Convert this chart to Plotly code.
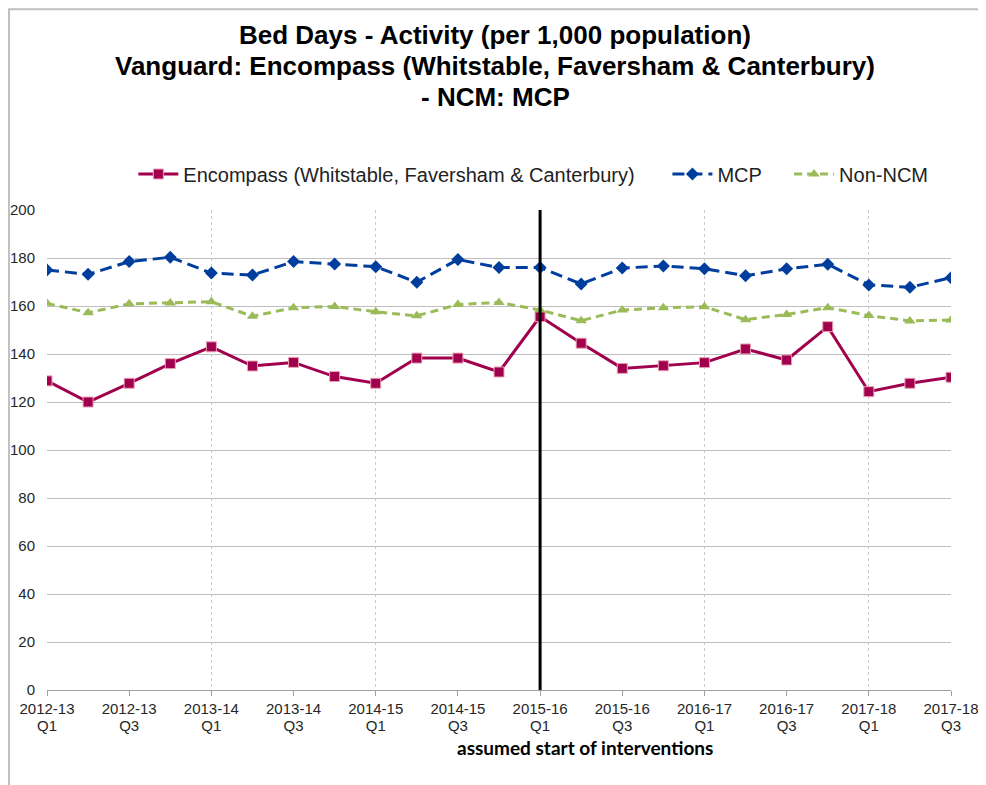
import plotly.graph_objects as go

quarters = [
    "2012-13 Q1", "2012-13 Q2", "2012-13 Q3", "2012-13 Q4",
    "2013-14 Q1", "2013-14 Q2", "2013-14 Q3", "2013-14 Q4",
    "2014-15 Q1", "2014-15 Q2", "2014-15 Q3", "2014-15 Q4",
    "2015-16 Q1", "2015-16 Q2", "2015-16 Q3", "2015-16 Q4",
    "2016-17 Q1", "2016-17 Q2", "2016-17 Q3", "2016-17 Q4",
    "2017-18 Q1", "2017-18 Q2", "2017-18 Q3",
]
encompass = [128.8, 120.0, 127.8, 136.0, 143.0, 135.0, 136.5, 130.6, 127.8, 138.3, 138.3, 132.5,
             155.6, 144.5, 134.0, 135.1, 136.4, 142.1, 137.5, 151.4, 124.3, 127.8, 130.3]
mcp = [175.0, 173.2, 178.5, 180.3, 173.7, 172.9, 178.5, 177.5, 176.4, 169.9, 179.4, 176.0,
       176.0, 169.2, 175.8, 176.7, 175.5, 172.6, 175.5, 177.4, 168.8, 167.8, 171.8]
non_ncm = [161.1, 157.2, 160.9, 161.3, 161.8, 155.7, 159.3, 159.8, 157.6, 155.9, 160.6, 161.5,
           158.3, 153.9, 158.3, 159.3, 159.7, 154.3, 156.5, 159.3, 156.0, 153.8, 154.2]
intervention_start = "2015-16 Q1"
title_lines = ["Bed Days - Activity (per 1,000 population)",
               "Vanguard: Encompass (Whitstable, Faversham & Canterbury)",
               "- NCM: MCP"]

x = list(range(len(quarters)))
label_idx = x[::2]
year_text = [quarters[i].split(" ")[0] for i in label_idx]
q_text = [quarters[i].split(" ")[1] for i in label_idx]
year_start_idx = [i for i in x if quarters[i].endswith("Q1")]
pad = "\u00a0"

fig = go.Figure()
fig.add_trace(go.Scatter(
    x=x, y=encompass, mode='lines+markers',
    name='Encompass (Whitstable, Faversham & Canterbury)' + pad * 5,
    line=dict(color='#A0004D', width=3),
    marker=dict(symbol='square', size=10, color='#A0004D', line=dict(color='#E9A3B4', width=1))
))
fig.add_trace(go.Scatter(
    x=x, y=mcp, mode='lines+markers', name='MCP' + pad * 4,
    line=dict(color='#003E9E', width=3, dash='12px,6px'),
    marker=dict(symbol='diamond', size=10, color='#003E9E')
))
fig.add_trace(go.Scatter(
    x=x, y=non_ncm, mode='lines+markers', name='Non-NCM',
    line=dict(color='#9BBB59', width=3, dash='8px,5px'),
    marker=dict(symbol='triangle-up', size=10, color='#9BBB59')
))
# invisible traces to anchor the extra axes (gridlines, quarter labels)
fig.add_trace(go.Scatter(x=x, y=mcp, xaxis='x2', mode='none', showlegend=False, hoverinfo='skip'))
fig.add_trace(go.Scatter(x=x, y=mcp, xaxis='x3', mode='none', showlegend=False, hoverinfo='skip'))

xi = quarters.index(intervention_start)
fig.add_shape(type='line', xref='x', yref='y', x0=xi, x1=xi, y0=0, y1=200,
              line=dict(color='black', width=3))
fig.add_shape(type='rect', xref='paper', yref='paper',
              x0=-0.042, x1=1.0365, y0=-0.25, y1=1.418,
              line=dict(color='#C0C0C0', width=2), layer='below')

for line, ypos in zip(title_lines, [1.3646, 1.3, 1.2354]):
    fig.add_annotation(text='<b>' + line + '</b>', xref='paper', yref='paper',
                       x=0.4956, y=ypos, xanchor='center', yanchor='middle', showarrow=False,
                       font=dict(family='Liberation Sans, Arial', size=26, color='black'))

fig.add_annotation(text='<b>assumed start of interventions</b>', xref='paper', yref='paper',
                   x=0.595, y=-0.119, xanchor='center', yanchor='middle', showarrow=False,
                   font=dict(family='Lato', size=19, color='black'))

fig.update_layout(
    width=978, height=777,
    margin=dict(l=39, r=35, t=202, b=95),
    paper_bgcolor='white', plot_bgcolor='white',
    font=dict(family='Liberation Sans, Arial', color='#262626', size=15),
    legend=dict(orientation='h', x=0.538, xanchor='center', y=1.075, yanchor='middle',
                itemwidth=40, font=dict(size=20, color='#222222')),
    showlegend=True,
    xaxis=dict(range=[0, len(quarters) - 1], tickvals=label_idx, ticktext=year_text,
               showgrid=False, zeroline=False, ticks='outside', ticklen=5, tickcolor='#A0A0A0',
               showline=False, automargin=False, tickfont=dict(size=15, color='#262626')),
    xaxis2=dict(range=[0, len(quarters) - 1], overlaying='x', tickvals=year_start_idx,
                showticklabels=False, showgrid=True, gridcolor='#C8C8C8', griddash='dot',
                gridwidth=1, zeroline=False, ticks='', automargin=False),
    xaxis3=dict(range=[0, len(quarters) - 1], overlaying='x', side='bottom', tickvals=label_idx,
                ticktext=q_text, showgrid=False, zeroline=False, ticks='', ticklabelstandoff=25,
                automargin=False, tickfont=dict(size=15, color='#262626')),
    yaxis=dict(range=[0, 200], dtick=20, showgrid=True, gridcolor='#BEBEBE', gridwidth=1,
               zeroline=True, zerolinecolor='#A0A0A0', zerolinewidth=1, showline=False,
               ticks='', ticklabelstandoff=11, automargin=False,
               tickfont=dict(size=15, color='#262626')),
    hovermode='x unified'
)

fig.write_html("out.html")
